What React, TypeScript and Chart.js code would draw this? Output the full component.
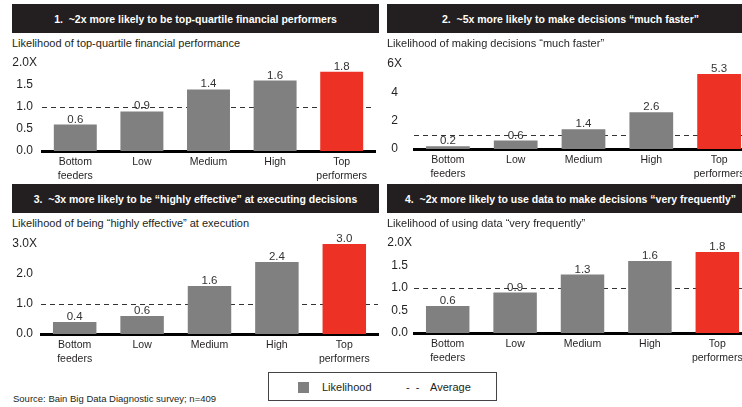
import React, { useEffect, useRef } from "react";
import { Chart, registerables } from "chart.js";

Chart.register(...registerables);

// ---------- data ----------
const categories: (string | string[])[] = [["Bottom", "feeders"], "Low", "Medium", "High", ["Top", "performers"]];
const financialValues = [0.6, 0.9, 1.4, 1.6, 1.8];
const fasterValues = [0.2, 0.6, 1.4, 2.6, 5.3];
const effectiveValues = [0.4, 0.6, 1.6, 2.4, 3.0];
const frequentValues = [0.6, 0.9, 1.3, 1.6, 1.8];
const averageLevel = 1.0;

const tickLabelsFinancial = ["0.0", "0.5", "1.0", "1.5", "2.0X"];
const tickLabelsFaster = ["0", "2", "4", "6X"];
const tickLabelsEffective = ["0.0", "1.0", "2.0", "3.0X"];
const tickLabelsFrequent = ["0.0", "0.5", "1.0", "1.5", "2.0X"];

const panelTitles = [
  "1.  ~2x more likely to be top-quartile financial performers",
  "2.  ~5x more likely to make decisions \u201cmuch faster\u201d",
  "3.  ~3x more likely to be \u201chighly effective\u201d at executing decisions",
  "4.  ~2x more likely to use data to make decisions \u201cvery frequently\u201d",
];
const panelSubtitles = [
  "Likelihood of top-quartile financial performance",
  "Likelihood of making decisions \u201cmuch faster\u201d",
  "Likelihood of being \u201chighly effective\u201d at execution",
  "Likelihood of using data \u201cvery frequently\u201d",
];
const legendBarLabel = "Likelihood";
const legendLineLabel = "Average";
const sourceText = "Source: Bain Big Data Diagnostic survey; n=409";

// ---------- styles ----------
const FONT = "'Liberation Sans', Arial, sans-serif";
const DARK = "#231f20";
const GRAY = "#808080";
const RED = "#ed3124";

type PanelCfg = {
  title: string;
  subtitle: string;
  values: number[];
  max: number;
  step: number;
  tickLabels: string[];
  headerLeft: number;
  headerTop: number;
  subTop: number;
  canvasLeft: number;
  canvasTop: number;
  canvasWidth: number;
  canvasHeight: number;
  yAxisWidth: number;
  padRight: number;
  tickPad: number;
};

const panels: PanelCfg[] = [
  {
    title: panelTitles[0], subtitle: panelSubtitles[0], values: financialValues, max: 2, step: 0.5,
    tickLabels: tickLabelsFinancial, headerLeft: 12, headerTop: 4, subTop: 36,
    canvasLeft: 0, canvasTop: 53, canvasWidth: 380, canvasHeight: 129, yAxisWidth: 42, padRight: 5, tickPad: 5,
  },
  {
    title: panelTitles[1], subtitle: panelSubtitles[1], values: fasterValues, max: 6, step: 2,
    tickLabels: tickLabelsFaster, headerLeft: 387, headerTop: 4, subTop: 36,
    canvasLeft: 374, canvasTop: 54, canvasWidth: 380, canvasHeight: 126, yAxisWidth: 40, padRight: 1, tickPad: 12,
  },
  {
    title: panelTitles[2], subtitle: panelSubtitles[2], values: effectiveValues, max: 3, step: 1,
    tickLabels: tickLabelsEffective, headerLeft: 12, headerTop: 184, subTop: 216,
    canvasLeft: 0, canvasTop: 234, canvasWidth: 380, canvasHeight: 131, yAxisWidth: 41, padRight: 2, tickPad: 4,
  },
  {
    title: panelTitles[3], subtitle: panelSubtitles[3], values: frequentValues, max: 2, step: 0.5,
    tickLabels: tickLabelsFrequent, headerLeft: 387, headerTop: 184, subTop: 216,
    canvasLeft: 374, canvasTop: 233, canvasWidth: 380, canvasHeight: 131, yAxisWidth: 40, padRight: 3, tickPad: 2,
  },
];

const X_AXIS_HEIGHT = 31;

function Panel({ cfg }: { cfg: PanelCfg }) {
  const ref = useRef<HTMLCanvasElement | null>(null);

  useEffect(() => {
    if (!ref.current) return;
    const values = cfg.values;
    const colors = values.map((_, i) => (i === values.length - 1 ? RED : GRAY));

    const averagePlugin = {
      id: "averageLine",
      beforeDatasetsDraw(chart: any) {
        const { ctx, chartArea, scales } = chart;
        const y = Math.round(scales.y.getPixelForValue(averageLevel)) + 0.5;
        ctx.save();
        ctx.strokeStyle = "#333333";
        ctx.lineWidth = 1;
        ctx.setLineDash([5, 4]);
        ctx.beginPath();
        ctx.moveTo(chartArea.left, y);
        ctx.lineTo(chartArea.right, y);
        ctx.stroke();
        ctx.restore();
      },
    };

    const valueLabelPlugin = {
      id: "valueLabels",
      afterDatasetsDraw(chart: any) {
        const { ctx } = chart;
        const meta = chart.getDatasetMeta(0);
        ctx.save();
        ctx.fillStyle = "#333333";
        ctx.font = `11.5px ${FONT}`;
        ctx.textAlign = "center";
        ctx.textBaseline = "alphabetic";
        meta.data.forEach((bar: any, i: number) => {
          ctx.fillText(values[i].toFixed(1), bar.x, bar.y - 2);
        });
        ctx.restore();
      },
    };

    const chart = new Chart(ref.current, {
      type: "bar",
      data: {
        labels: categories as any,
        datasets: [
          {
            label: legendBarLabel,
            data: values,
            backgroundColor: colors,
            borderWidth: 0,
            barPercentage: 0.645,
            categoryPercentage: 1,
          },
        ],
      },
      options: {
        responsive: false,
        animation: false,
        devicePixelRatio: 1,
        layout: { padding: { top: 10, right: cfg.padRight, left: 0, bottom: 0 } },
        plugins: {
          legend: { display: false },
          tooltip: { enabled: false },
          title: { display: false },
        },
        scales: {
          x: {
            grid: { display: false, drawTicks: false },
            border: { display: true, color: "#000000", width: 3 },
            ticks: {
              color: DARK,
              font: { family: FONT, size: 10.5, lineHeight: 1.25 },
              padding: 5,
              maxRotation: 0,
              autoSkip: false,
            },
            afterFit(scale: any) {
              scale.height = X_AXIS_HEIGHT;
              scale.paddingLeft = 0;
              scale.paddingRight = 0;
            },
          },
          y: {
            min: 0,
            max: cfg.max,
            grid: { display: false, drawTicks: false },
            border: { display: false },
            ticks: {
              stepSize: cfg.step,
              autoSkip: false,
              color: DARK,
              font: { family: FONT, size: 12 },
              padding: cfg.tickPad,
              crossAlign: "center",
              callback: (_v: any, i: number) => cfg.tickLabels[i],
            },
            afterFit(scale: any) {
              scale.width = cfg.yAxisWidth;
              scale.paddingTop = 0;
              scale.paddingBottom = 0;
            },
          },
        },
      },
      plugins: [averagePlugin, valueLabelPlugin],
    } as any);

    return () => chart.destroy();
  }, [cfg]);

  return (
    <>
      <div
        style={{
          position: "absolute",
          left: cfg.headerLeft,
          top: cfg.headerTop,
          width: 367,
          height: 29,
          background: DARK,
          color: "#ffffff",
          fontFamily: FONT,
          fontWeight: "bold",
          fontSize: 10.5,
          display: "flex",
          alignItems: "center",
          justifyContent: "center",
          whiteSpace: "pre",
        }}
      >
        {cfg.title}
      </div>
      <div
        style={{
          position: "absolute",
          left: cfg.headerLeft,
          top: cfg.subTop,
          height: 14,
          lineHeight: "14px",
          fontFamily: FONT,
          fontSize: 11,
          color: DARK,
          whiteSpace: "pre",
        }}
      >
        {cfg.subtitle}
      </div>
      <canvas
        ref={ref}
        width={cfg.canvasWidth}
        height={cfg.canvasHeight}
        style={{
          position: "absolute",
          left: cfg.canvasLeft,
          top: cfg.canvasTop,
          width: cfg.canvasWidth,
          height: cfg.canvasHeight,
        }}
      />
    </>
  );
}

export default function App() {
  return (
    <div
      style={{
        position: "absolute",
        left: 0,
        top: 0,
        width: 742,
        height: 407,
        overflow: "hidden",
        background: "#ffffff",
        fontFamily: FONT,
      }}
    >
      {panels.map((p, i) => (
        <Panel key={i} cfg={p} />
      ))}
      <div
        style={{
          position: "absolute",
          left: 268,
          top: 372,
          width: 229,
          height: 29,
          boxSizing: "border-box",
          border: "1px solid #444444",
        }}
      >
        <div style={{ position: "absolute", left: 29, top: 9, width: 11, height: 11, background: GRAY }} />
        <div
          style={{
            position: "absolute",
            left: 53,
            top: 7,
            lineHeight: "14px",
            fontSize: 11,
            color: DARK,
            whiteSpace: "pre",
          }}
        >
          {legendBarLabel}
        </div>
        <div
          style={{
            position: "absolute",
            left: 137,
            top: 7,
            lineHeight: "14px",
            fontSize: 11,
            color: DARK,
            whiteSpace: "pre",
          }}
        >
          {"-  -"}
        </div>
        <div
          style={{
            position: "absolute",
            left: 161,
            top: 7,
            lineHeight: "14px",
            fontSize: 11,
            color: DARK,
            whiteSpace: "pre",
          }}
        >
          {legendLineLabel}
        </div>
      </div>
      <div
        style={{
          position: "absolute",
          left: 13,
          top: 393,
          lineHeight: "12px",
          fontSize: 9.5,
          color: DARK,
          whiteSpace: "pre",
        }}
      >
        {sourceText}
      </div>
    </div>
  );
}
